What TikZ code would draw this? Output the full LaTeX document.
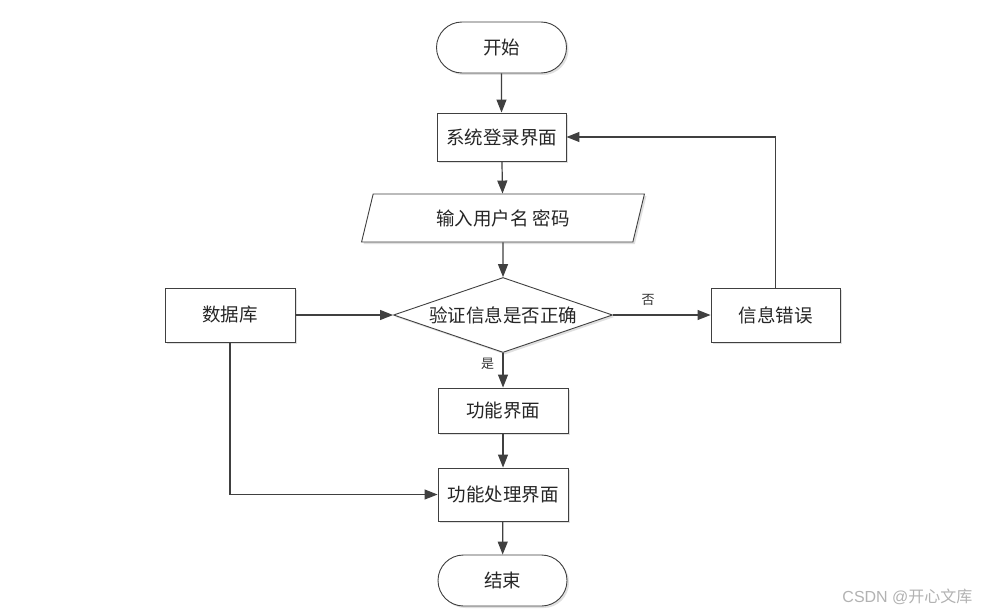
\documentclass[tikz,border=0pt]{standalone}
\usepackage{fontspec}
\newfontfamily\cjk{Noto Sans CJK SC}
\usetikzlibrary{arrows.meta,shapes.geometric,shapes.misc,shadows}
\definecolor{ln}{RGB}{64,64,64}
\begin{document}
\begin{tikzpicture}[x=1pt,y=-1pt,
  base/.style={draw=ln,line width=0.9pt,fill=white,font=\cjk\fontsize{18.5}{20}\selectfont,text=black!85,
    drop shadow={shadow xshift=2pt,shadow yshift=-2pt,fill=black!12,opacity=1}},
  procbox/.style={base,rectangle,minimum width=129pt,minimum height=48pt,inner sep=0pt},
  term/.style={base,rounded rectangle,minimum width=130pt,minimum height=51pt,inner sep=0pt},
  conn/.style={draw=ln,line width=1.2pt,-{Triangle[length=13pt,width=10pt]}},
  lbl/.style={font=\cjk\fontsize{13}{15}\selectfont,text=black!80}]
\useasboundingbox (0,0) rectangle (981,615);
\fill[white] (0,0) rectangle (981,615);
\node[term] (start) at (501.5,47.5) {开始};
\node[procbox] (login) at (501.5,137) {系统登录界面};
\node[base,trapezium,trapezium left angle=71,trapezium right angle=109,minimum width=283pt,minimum height=48pt,inner sep=0pt,trapezium stretches=true] (input) at (503,218) {输入用户名 密码};
\node[base,diamond,minimum width=219pt,minimum height=75pt,inner sep=0pt,aspect=2.9] (check) at (503,315) {验证信息是否正确};
\node[procbox,minimum width=130pt,minimum height=54pt] (db) at (230,315) {数据库};
\node[procbox,minimum width=129pt,minimum height=54pt] (err) at (775.5,315) {信息错误};
\node[procbox,minimum width=130pt,minimum height=45pt] (func) at (503,410.5) {功能界面};
\node[procbox,minimum width=130pt,minimum height=53pt] (proc) at (503,494.5) {功能处理界面};
\node[term,minimum width=129pt] (end) at (502.5,580.5) {结束};
\coordinate (c1) at (775.5,137);
\coordinate (c2) at (230,494.5);
\draw[conn] (start) -- (login);
\draw[conn] (login) -- (input);
\draw[conn] (input) -- (check);
\draw[conn] (check.east) -- node[lbl,above=6pt,pos=0.36] {否} (err.west);
\draw[conn] (check.south) -- node[lbl,left=5pt,pos=0.3] {是} (func.north);
\draw[conn] (db.east) -- (check.west);
\draw[conn] (func) -- (proc);
\draw[conn] (proc) -- (end);
\draw[conn] (err.north) -- (c1) -- (login.east);
\draw[conn] (db.south) -- (c2) -- (proc.west);
\node[font=\fontspec{Liberation Sans}\fontsize{16}{18}\selectfont,text=black!30,anchor=east] (wm) at (976,597) {CSDN @{\cjk 开心文库}};
\end{tikzpicture}
\end{document}
